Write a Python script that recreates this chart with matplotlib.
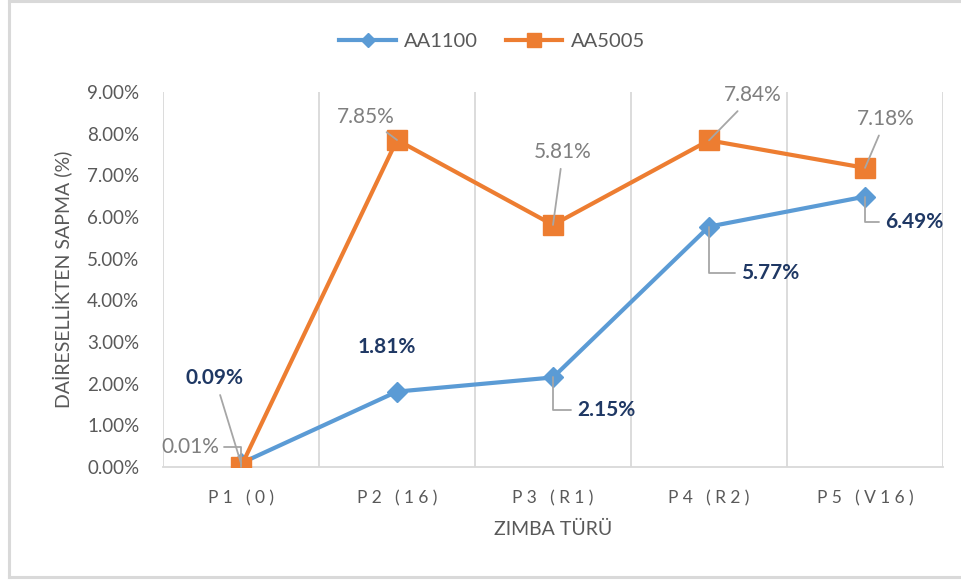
import matplotlib.pyplot as plt
from matplotlib.lines import Line2D

plt.rcParams['font.family'] = ['Lato', 'DejaVu Sans']

categories = ['P1 (0)', 'P2 (16)', 'P3 (R1)', 'P4 (R2)', 'P5 (V16)']
aa1100 = [0.0009, 0.0181, 0.0215, 0.0577, 0.0649]
aa5005 = [0.0001, 0.0785, 0.0581, 0.0784, 0.0718]

# label offsets in pixels (dx, dy) and leader style per point
off_1100 = [(-26, 85), (-10, 45), (53, -33), (61, -46), (49, -25)]
off_5005 = [(-51, 20), (-31, 23), (10, 73), (44, 45), (21, 49)]
bent_1100 = [False, None, True, True, True]
bent_5005 = [True, False, False, False, False]

blue = '#5B9BD5'
orange = '#ED7D31'
grid_c = '#D9D9D9'
tick_c = '#595959'
lbl_gray = '#7F7F7F'
navy = '#1F3864'
lead_c = '#A6A6A6'


def spaced(s):
    # wide character spacing for category names
    return '\u2005'.join(s)


fig = plt.figure(figsize=(9.61, 5.81), dpi=100)
ax = fig.add_axes([0.1696, 0.1962, 0.8117, 0.6454])

x = list(range(len(categories)))
ax.plot(x, aa1100, color=blue, lw=3, marker='D', ms=10, label='AA1100', zorder=3)
ax.plot(x, aa5005, color=orange, lw=3, marker='s', ms=14, label='AA5005', zorder=4)

ax.set_xlim(-0.5, 4.5)
ax.set_ylim(0, 0.09)
ax.set_yticks([i / 100 for i in range(10)])
ax.set_yticklabels(['%.2f%%' % i for i in range(10)], fontsize=13.5, color=tick_c)
ax.set_xticks(x)
ax.set_xticklabels([spaced(c) for c in categories], fontsize=12.5, color=tick_c)
ax.tick_params(axis='both', length=0)
ax.tick_params(axis='y', pad=17)
ax.tick_params(axis='x', pad=17)

# vertical lines at category borders
for b in [i - 0.5 for i in range(len(categories) + 1)]:
    ax.axvline(b, color=grid_c, lw=1.3, zorder=1)
for side in ['top', 'right', 'left']:
    ax.spines[side].set_visible(False)
ax.spines['bottom'].set_color(grid_c)
ax.spines['bottom'].set_linewidth(1.3)

ax.set_xlabel('ZIMBA TÜRÜ', fontsize=14, color=tick_c, labelpad=10)
ax.set_ylabel('DAİRESELLİKTEN SAPMA (%)', fontsize=14, color=tick_c, labelpad=10)


def add_labels(vals, offs, bents, color, weight):
    for i, v in enumerate(vals):
        dx, dy = offs[i]
        arrow = None
        if bents[i] is not None:
            if bents[i]:
                rel = (0, 0.5) if dx > 0 else (1, 0.5)
                arrow = dict(arrowstyle='-', color=lead_c, lw=1.3, relpos=rel,
                             shrinkA=2, shrinkB=0,
                             connectionstyle='angle,angleA=0,angleB=90,rad=0')
            else:
                arrow = dict(arrowstyle='-', color=lead_c, lw=1.3,
                             shrinkA=3, shrinkB=0)
        ax.annotate('%.2f%%' % (v * 100), xy=(i, v), xytext=(dx, dy),
                    textcoords='offset pixels', ha='center', va='center',
                    fontsize=15, color=color, fontweight=weight,
                    arrowprops=arrow, annotation_clip=False, zorder=5)


add_labels(aa5005, off_5005, bent_5005, lbl_gray, 'normal')
add_labels(aa1100, off_1100, bent_1100, navy, 'bold')

leg = ax.legend(loc='center', bbox_to_anchor=(0.512, 0.928), bbox_transform=fig.transFigure,
                ncol=2, frameon=False, fontsize=14.5, handlelength=2.8,
                columnspacing=1.4, handletextpad=0.4, markerscale=0.75)
for t in leg.get_texts():
    t.set_color(tick_c)

# chart border
for xs, ys in [([0.0094, 0.0094], [0.007, 0.998]), ([0.0094, 1.0], [0.998, 0.998]),
               ([0.0094, 1.0], [0.007, 0.007])]:
    fig.add_artist(Line2D(xs, ys, color=grid_c, lw=2.2, transform=fig.transFigure))

fig.savefig('out.png', dpi=100, facecolor='white')
